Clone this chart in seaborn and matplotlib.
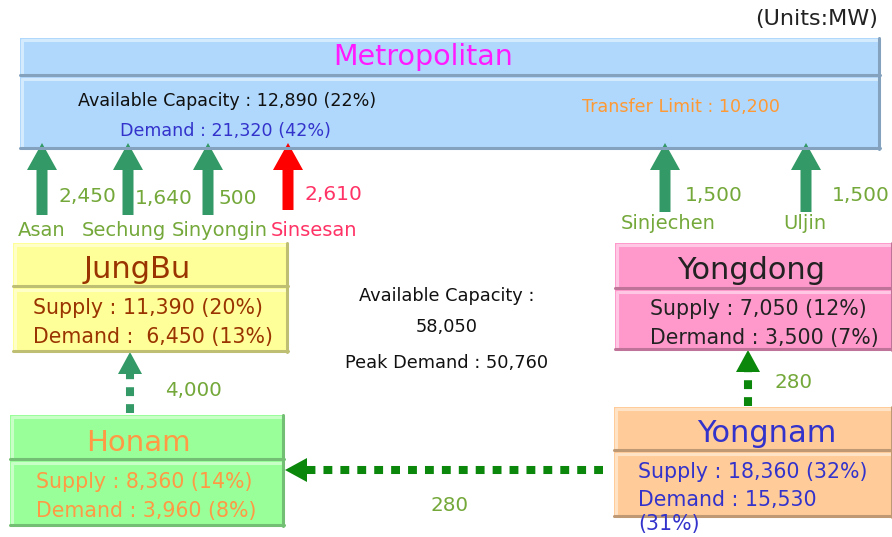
import matplotlib.pyplot as plt
import seaborn as sns
from matplotlib.patches import Rectangle, Polygon
from matplotlib.colors import to_rgb

# region figures (MW)
regions = ['Metropolitan', 'JungBu', 'Yongdong', 'Honam', 'Yongnam']
supply = [None, 11390, 7050, 8360, 18360]
supply_pct = [None, 20, 12, 14, 32]
demand = [21320, 6450, 3500, 3960, 15530]
demand_pct = [42, 13, 7, 8, 31]
metro_capacity = 12890
metro_capacity_pct = 22
transfer_limit = 10200
total_capacity = 58050
peak_demand = 50760

# transmission lines into the metropolitan area
line_names = ['Asan', 'Sechung', 'Sinyongin', 'Sinsesan', 'Sinjechen', 'Uljin']
line_flows = [2450, 1640, 500, 2610, 1500, 1500]

# inter-regional links
link_names = ['Honam-JungBu', 'Yongnam-Yongdong', 'Yongnam-Honam']
link_flows = [4000, 280, 280]

sns.set_style('white')
plt.rcParams['font.family'] = ['DejaVu Sans']

GREEN_TXT = '#74a83a'
ARROW = '#339966'
DARK = '#0b870b'
PINK = '#ff3366'


def fmt(v):
    return f'{v:,}'


def shade(c, f):
    r, g, b = to_rgb(c)
    if f > 0:
        return (r + (1 - r) * f, g + (1 - g) * f, b + (1 - b) * f)
    return (r * (1 + f), g * (1 + f), b * (1 + f))


def bevel_box(ax, x0, x1, y0, y1, color):
    ax.add_patch(Rectangle((x0, y0), x1 - x0, y1 - y0, fc=color, ec='none'))
    lt, dk = shade(color, 0.45), shade(color, -0.25)
    ax.plot([x0 + 1.5, x1 - 1.5], [y0 + 1.5, y0 + 1.5], color=lt, lw=2.2)
    ax.plot([x0 + 1.5, x0 + 1.5], [y0 + 1.5, y1 - 1.5], color=lt, lw=2.2)
    ax.plot([x0, x1], [y1 - 1.5, y1 - 1.5], color=dk, lw=2.2)
    ax.plot([x1 - 1.5, x1 - 1.5], [y0, y1], color=dk, lw=2.2)


def solid_arrow(ax, x, ytail, ytip, color):
    sw, hw, hl = 5.5, 15, 27
    pts = [(x - sw, ytail), (x - sw, ytip + hl), (x - hw, ytip + hl), (x, ytip),
           (x + hw, ytip + hl), (x + sw, ytip + hl), (x + sw, ytail)]
    ax.add_patch(Polygon(pts, fc=color, ec='none'))


def dotted_arrow(ax, start, end, color, hw=12, hl=22):
    (xs, ys), (xe, ye) = start, end
    dx, dy = xe - xs, ye - ys
    n = (dx ** 2 + dy ** 2) ** 0.5
    ux, uy = dx / n, dy / n
    bx, by = xe - ux * hl, ye - uy * hl
    ax.plot([xs, bx], [ys, by], color=color, lw=5.8,
            linestyle=(0, (1.1, 1.0)), dash_capstyle='butt')
    px, py = -uy, ux
    ax.add_patch(Polygon([(bx + px * hw, by + py * hw), (xe, ye),
                          (bx - px * hw, by - py * hw)], fc=color, ec='none'))


def label(x, y, s, size, color, ha='left'):
    ax.text(x, y, s, ha=ha, va='baseline', fontsize=size, color=color)


fig = plt.figure(figsize=(8.92, 5.37), dpi=100)
ax = fig.add_axes([0, 0, 1, 1])
ax.set_xlim(0, 892)
ax.set_ylim(537, 0)
ax.axis('off')

label(878, 25, '(Units:MW)', 16, '#222222', ha='right')

# boxes: x0, x1, header top, header bottom, body bottom, fill, title centre x, title baseline
layout = {
    'Metropolitan': (20, 880, 38, 76, 149, '#b0d8fc', 423, 65),
    'JungBu': (13, 288, 243, 287, 352, '#ffff99', 137, 278),
    'Yongdong': (615, 893, 243, 289, 350, '#ff99cc', 751, 279),
    'Honam': (10, 284, 415, 460, 526, '#99ff99', 138, 451),
    'Yongnam': (614, 893, 407, 451, 517, '#ffcc99', 767, 442),
}
title_color = {'Metropolitan': '#ff1aff', 'JungBu': '#993300', 'Yongdong': '#222222',
               'Honam': '#ff9944', 'Yongnam': '#3333cc'}
title_size = {'Metropolitan': 20.5, 'JungBu': 22, 'Yongdong': 22, 'Honam': 21, 'Yongnam': 22}

for name in regions:
    x0, x1, yt, ym, yb, c, xc, yl = layout[name]
    bevel_box(ax, x0, x1, yt, ym, c)
    bevel_box(ax, x0, x1, ym + 1, yb, c)
    label(xc, yl, name, title_size[name], title_color[name], ha='center')

# metropolitan body
label(78, 106, f'Available Capacity : {fmt(metro_capacity)} ({metro_capacity_pct}%)',
      12.6, '#111111')
label(120, 136, f'Demand : {fmt(demand[0])} ({demand_pct[0]}%)', 12.6, '#3333cc')
label(582, 112, f'Transfer Limit : {fmt(transfer_limit)}', 12.6, '#ff9933')

# regional bodies
body = {
    'JungBu': (33, 314, 343, '#993300', f'Supply : {fmt(supply[1])} ({supply_pct[1]}%)',
               f'Demand :  {fmt(demand[1])} ({demand_pct[1]}%)'),
    'Yongdong': (650, 315, 344, '#222222', f'Supply : {fmt(supply[2])} ({supply_pct[2]}%)',
                 f'Dermand : {fmt(demand[2])} ({demand_pct[2]}%)'),
    'Honam': (36, 488, 517, '#ff9944', f'Supply : {fmt(supply[3])} ({supply_pct[3]}%)',
              f'Demand : {fmt(demand[3])} ({demand_pct[3]}%)'),
    'Yongnam': (638, 478, 506, '#3333cc', f'Supply : {fmt(supply[4])} ({supply_pct[4]}%)',
                f'Demand : {fmt(demand[4])}'),
}
for name, (x, y1, y2, c, s1, s2) in body.items():
    label(x, y1, s1, 14.8, c)
    label(x, y2, s2, 14.8, c)
label(638, 530, f'({demand_pct[4]}%)', 14.8, '#3333cc')

# national summary
label(447, 301, 'Available Capacity :', 12.8, '#111111', ha='center')
label(447, 332, fmt(total_capacity), 12.8, '#111111', ha='center')
label(447, 368, f'Peak Demand : {fmt(peak_demand)}', 12.8, '#111111', ha='center')

# transmission line arrows
line_x = [42, 128, 208, 288, 665, 806]
line_tail = [215, 215, 215, 210, 212, 212]
name_xy = [(42, 236), (124, 236), (220, 236), (314, 236), (668, 229), (805, 229)]
flow_xy = [(58, 202), (135, 204), (218, 204), (305, 200), (685, 201), (832, 201)]
for i, name in enumerate(line_names):
    col = 'red' if name == 'Sinsesan' else ARROW
    tcol = PINK if name == 'Sinsesan' else GREEN_TXT
    solid_arrow(ax, line_x[i], line_tail[i], 143, col)
    label(*name_xy[i], name, 14, tcol, ha='center')
    label(*flow_xy[i], fmt(line_flows[i]), 14.5, tcol)

# inter-regional links
link_geom = [((130, 413), (130, 352), ARROW, (165, 396)),
             ((748, 406), (748, 350), DARK, (775, 388)),
             ((603, 470), (285, 470), DARK, (430, 511))]
for (s, e, c, lxy), v in zip(link_geom, link_flows):
    dotted_arrow(ax, s, e, c)
    label(*lxy, fmt(v), 14.3, GREEN_TXT)

fig.savefig('out.png', dpi=100)
